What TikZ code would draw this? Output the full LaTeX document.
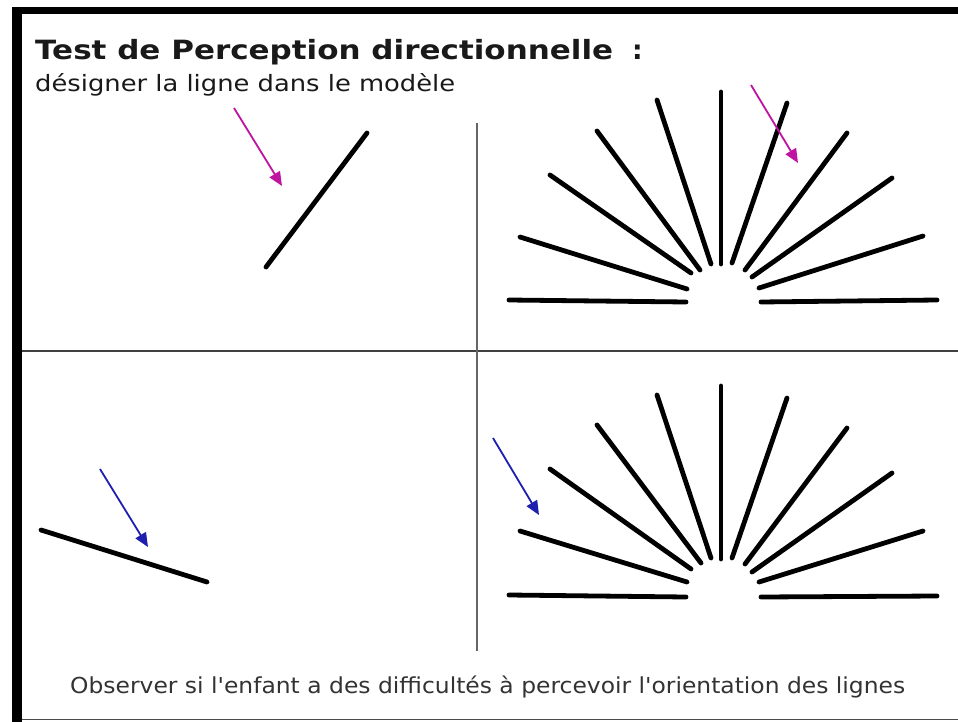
\documentclass[tikz,border=0pt]{standalone}
\usepackage{fontspec}
\usepackage{graphicx}
\setmainfont{DejaVu Sans}
\usetikzlibrary{arrows.meta}
\definecolor{mag}{RGB}{190,20,160}
\definecolor{blu}{RGB}{30,30,175}
\definecolor{txt}{RGB}{25,25,25}
\tikzset{
  x=1pt,y=-1pt,
  stroke/.style={line width=4.8pt,line cap=round,black},
  pointer/.style={line width=1.8pt,-{Triangle[length=14pt,width=12pt]}},
  divider/.style={draw=black!75},
  lbl/.style={inner sep=0pt,anchor=base west,text=txt}
}
\begin{document}
\begin{tikzpicture}
\useasboundingbox (0,0) rectangle (958,722);
\fill[white] (0,0) rectangle (958,722);
% frame
\fill[black] (12,7) rectangle (958,14);
\fill[black] (12,7) rectangle (22,722);
\draw[black!70,line width=1.5pt] (22,719.5) -- (958,719.5);
% dividers
\draw[divider,line width=2.8pt] (22,351) -- (958,351);
\draw[divider,line width=1.2pt,draw=black!60] (477,123) -- (477,651);
% texts
\node[lbl,font=\bfseries\fontsize{26.5}{30}\selectfont] (title) at (35,60) {\resizebox{578pt}{\height}{Test de Perception directionnelle}};
\node[lbl,font=\bfseries\fontsize{26.5}{30}\selectfont] (colon) at (632,60) {:};
\node[lbl,font=\fontsize{22.5}{26}\selectfont] (sub) at (35,92) {\resizebox{420pt}{\height}{désigner la ligne dans le modèle}};
\node[lbl,font=\fontsize{22}{26}\selectfont,text=black!80] (obs) at (70,693) {\resizebox{835pt}{\height}{Observer si l\textquotesingle enfant a des difficultés à percevoir l\textquotesingle orientation des lignes}};
% top-left single line
\draw[stroke] (266,267) -- (367,133);
\coordinate (ma1) at (234,108); \coordinate (mb1) at (282,186);
\draw[pointer,mag] (ma1) -- (mb1);
% bottom-left single line
\draw[stroke] (41,530) -- (207,582);
\coordinate (ba1) at (100,469); \coordinate (bb1) at (148,547);
\draw[pointer,blu] (ba1) -- (bb1);
% top-right fan
\foreach \a/\b/\c/\d in {509/300/686/302, 520/237/687/289, 550/175/691/273, 597/131/700/270, 657/100/711/264, 721/92/721/264, 787/103/732/263, 847/133/745/270, 892/178/752/277, 923/236/759/288, 761/302/937/300}
  \draw[stroke] (\a,\b) -- (\c,\d);
\coordinate (ma2) at (751,85); \coordinate (mb2) at (798,163);
\draw[pointer,mag] (ma2) -- (mb2);
% bottom-right fan
\foreach \a/\b/\c/\d in {509/595/686/597, 520/531/687/582, 550/469/691/569, 597/425/701/563, 657/395/711/558, 721/386/721/559, 787/398/732/558, 847/428/745/564, 892/473/752/572, 923/531/759/582, 761/597/937/596}
  \draw[stroke] (\a,\b) -- (\c,\d);
\coordinate (ba2) at (493,438); \coordinate (bb2) at (539,515);
\draw[pointer,blu] (ba2) -- (bb2);
\end{tikzpicture}
\end{document}
